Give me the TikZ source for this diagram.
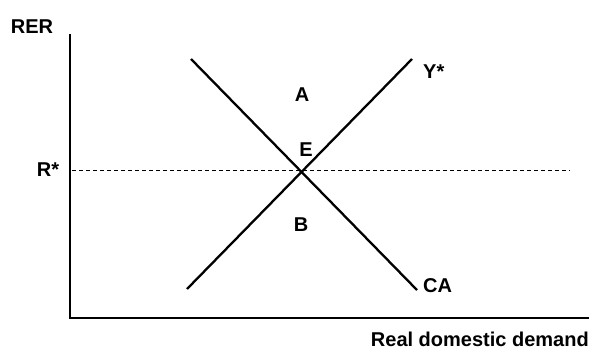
\documentclass[tikz,border=0pt]{standalone}
\usepackage{fontspec}
\setmainfont{Liberation Sans}
\begin{document}
\begin{tikzpicture}[x=1pt,y=-1pt,
  lbl/.style={font=\fontsize{20}{23}\selectfont\bfseries, inner sep=0pt},
  axis/.style={line width=2.8pt},
  curve/.style={line width=2.3pt},
  guide/.style={line width=0.9pt, dash pattern=on 4pt off 3pt}]
\useasboundingbox (0,0) rectangle (589,349);
% axes
\coordinate (ytop) at (70,34);
\coordinate (orig) at (70,318);
\coordinate (xend) at (589,318);
\draw[axis] (ytop) -- (orig) -- (xend);
% dashed R* line
\coordinate (dl) at (72,170);
\coordinate (dr) at (570,170);
\draw[guide] (dl) -- (dr);
% CA curve
\coordinate (ca1) at (191,59);
\coordinate (ca2) at (417,290);
\draw[curve] (ca1) -- (ca2);
% Y* curve
\coordinate (y1) at (187,289);
\coordinate (y2) at (412,59);
\draw[curve] (y1) -- (y2);
% labels
\node[lbl, anchor=base] (rer) at (32,33) {RER};
\node[lbl, anchor=base] (rs) at (48,176) {R*};
\node[lbl, anchor=base] (a) at (302,101) {A};
\node[lbl, anchor=base] (e) at (306,156) {E};
\node[lbl, anchor=base] (b) at (301,231) {B};
\node[lbl, anchor=base west] (ys) at (423,78) {Y*};
\node[lbl, anchor=base west] (ca) at (423,292) {CA};
\node[lbl, anchor=base east] (xl) at (589,346) {Real domestic demand};
\end{tikzpicture}
\end{document}
